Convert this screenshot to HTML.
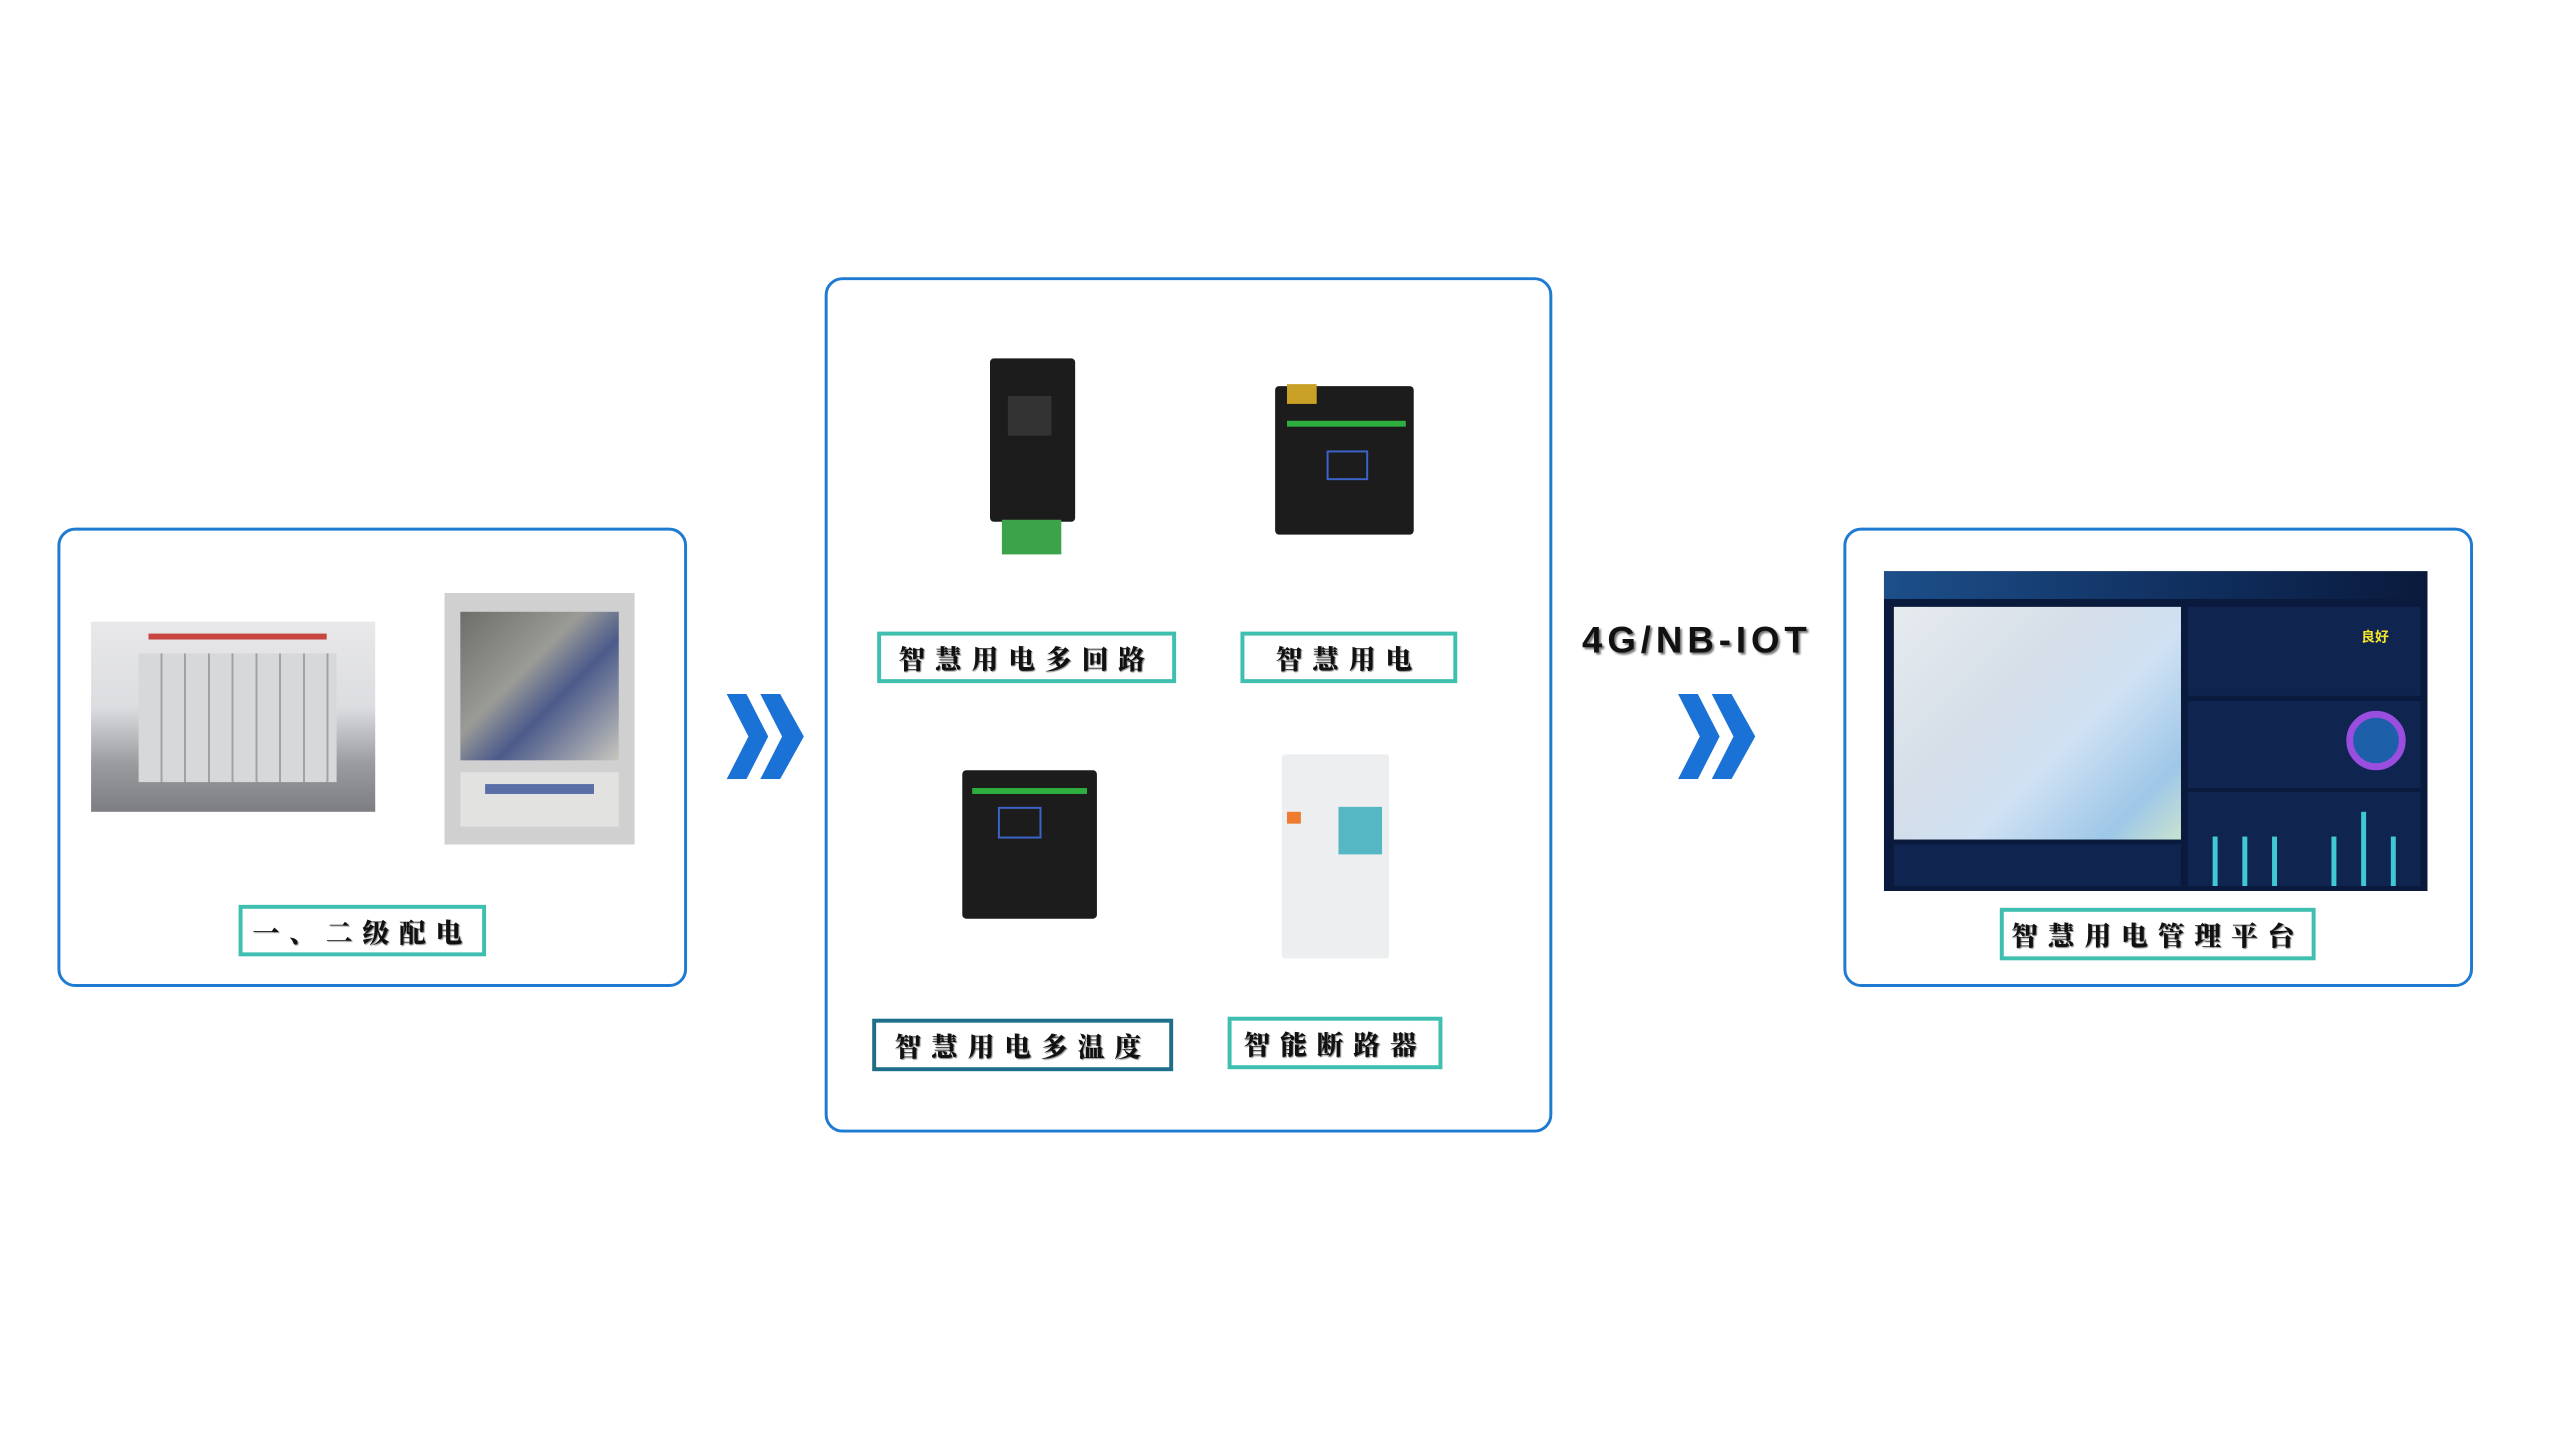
<!DOCTYPE html>
<html><head><meta charset="utf-8"><style>
body{margin:0;width:2560px;height:1440px;background:#fff;position:relative;overflow:hidden;font-family:"Liberation Sans","Noto Serif CJK SC",serif}
#w{position:absolute;left:0;top:0;width:2560px;height:1440px;transform:scale(0.99);transform-origin:0 0}
.box{position:absolute;border:3px solid #1f7bd1;border-radius:18px;box-sizing:border-box}
.lab{position:absolute;border:4px solid #3fbfb0;box-sizing:border-box;display:flex;align-items:center;justify-content:center;font-family:"Noto Serif CJK SC",serif;font-weight:900;font-size:27px;letter-spacing:10px;color:#111;background:#fff;text-shadow:1px 1px 1px #888}
.lab.d{border-color:#1f6f8b}
.abs{position:absolute}
.dev{position:absolute;background:#1c1c1c;border-radius:4px}
</style></head><body><div id="w">
<div class="box" style="left:58px;top:533px;width:636px;height:464px"></div>
<div class="box" style="left:833px;top:280px;width:735px;height:864px"></div>
<div class="box" style="left:1862px;top:533px;width:636px;height:464px"></div>

<div class="abs" style="left:92px;top:628px;width:287px;height:192px;background:linear-gradient(180deg,#e8e8ea 0%,#dcdde0 45%,#9a9b9f 75%,#7d7e82 100%)"></div>
<div class="abs" style="left:140px;top:660px;width:200px;height:130px;background:repeating-linear-gradient(90deg,#d6d8da 0 22px,#9fa3a8 22px 24px)"></div>
<div class="abs" style="left:150px;top:640px;width:180px;height:6px;background:#c8463f"></div>
<div class="abs" style="left:449px;top:599px;width:192px;height:254px;background:#cfd0cf"></div>
<div class="abs" style="left:465px;top:618px;width:160px;height:150px;background:linear-gradient(135deg,#6d6e6a,#9a9b96 40%,#4b5a8a 60%,#c8c6bd)"></div>
<div class="abs" style="left:465px;top:780px;width:160px;height:55px;background:#e2e2e0"></div>
<div class="abs" style="left:490px;top:792px;width:110px;height:10px;background:#5a6fa8"></div>

<div class="lab" style="left:241px;top:914px;width:250px;height:52px">一、二级配电</div>

<svg class="abs" style="left:734px;top:701px" width="78" height="86" viewBox="0 0 78 86"><polygon points="0,0 20,0 42,43 20,86 0,86 22,43" fill="#1a72d6"/><polygon points="34,0 54,0 78,43 54,86 34,86 56,43" fill="#1a72d6"/></svg>
<svg class="abs" style="left:1695px;top:701px" width="78" height="86" viewBox="0 0 78 86"><polygon points="0,0 20,0 42,43 20,86 0,86 22,43" fill="#1a72d6"/><polygon points="34,0 54,0 78,43 54,86 34,86 56,43" fill="#1a72d6"/></svg>
<div class="abs" style="left:1598px;top:626px;font-family:'Liberation Sans',sans-serif;font-weight:bold;font-size:37px;letter-spacing:5px;color:#111;text-shadow:2px 2px 2px #777">4G/NB-IOT</div>

<div class="dev" style="left:1000px;top:362px;width:86px;height:165px"></div>
<div class="abs" style="left:1018px;top:400px;width:44px;height:40px;background:#333"></div>
<div class="abs" style="left:1012px;top:525px;width:60px;height:35px;background:#3da34a"></div>
<div class="dev" style="left:1288px;top:390px;width:140px;height:150px"></div>
<div class="abs" style="left:1300px;top:425px;width:120px;height:6px;background:#2eae3e"></div>
<div class="abs" style="left:1340px;top:455px;width:38px;height:26px;border:2px solid #3b63c9"></div>
<div class="abs" style="left:1300px;top:388px;width:30px;height:20px;background:#c9a127"></div>
<div class="dev" style="left:972px;top:778px;width:136px;height:150px"></div>
<div class="abs" style="left:982px;top:796px;width:116px;height:6px;background:#2eae3e"></div>
<div class="abs" style="left:1008px;top:815px;width:40px;height:28px;border:2px solid #3b63c9"></div>
<div class="abs" style="left:1295px;top:762px;width:108px;height:206px;background:#eceef0;border-radius:3px"></div>
<div class="abs" style="left:1352px;top:815px;width:44px;height:48px;background:#56b7c4"></div>
<div class="abs" style="left:1300px;top:820px;width:14px;height:12px;background:#ef7b30"></div>

<div class="lab" style="left:886px;top:638px;width:302px;height:52px">智慧用电多回路</div>
<div class="lab" style="left:1253px;top:638px;width:219px;height:52px">智慧用电</div>
<div class="lab d" style="left:881px;top:1029px;width:304px;height:53px">智慧用电多温度</div>
<div class="lab" style="left:1240px;top:1027px;width:217px;height:53px">智能断路器</div>

<div class="abs" style="left:1903px;top:577px;width:549px;height:323px;background:#0a1a3c"></div>
<div class="abs" style="left:1903px;top:577px;width:549px;height:28px;background:linear-gradient(90deg,#1d4f8a,#0f2d5c 60%,#0a1a3c)"></div>
<div class="abs" style="left:1913px;top:613px;width:290px;height:235px;background:linear-gradient(135deg,#e6ebef,#d4dde8 40%,#cfe1f3 60%,#9ec7e8 85%,#c8e3d0)"></div>
<div class="abs" style="left:1913px;top:853px;width:290px;height:42px;background:#0f2550"></div>
<div class="abs" style="left:2210px;top:613px;width:235px;height:90px;background:#0f2550"></div>
<div class="abs" style="left:2210px;top:708px;width:235px;height:88px;background:#0f2550"></div>
<div class="abs" style="left:2370px;top:718px;width:46px;height:46px;border-radius:50%;border:7px solid #9a4ee0;background:#1d5fa8"></div>
<div class="abs" style="left:2210px;top:800px;width:235px;height:95px;background:#0f2550"></div>
<svg class="abs" style="left:2215px;top:815px" width="225" height="80"><g fill="#3fc9d4"><rect x="20" y="30" width="5" height="50"/><rect x="50" y="30" width="5" height="50"/><rect x="80" y="30" width="5" height="50"/><rect x="140" y="30" width="5" height="50"/><rect x="170" y="5" width="5" height="75"/><rect x="200" y="30" width="5" height="50"/></g></svg>
<div class="abs" style="left:2385px;top:633px;font-size:14px;font-weight:bold;color:#f5e52a;font-family:'Noto Sans CJK SC',sans-serif">良好</div>

<div class="lab" style="left:2020px;top:917px;width:319px;height:53px">智慧用电管理平台</div>
</div></body></html>
